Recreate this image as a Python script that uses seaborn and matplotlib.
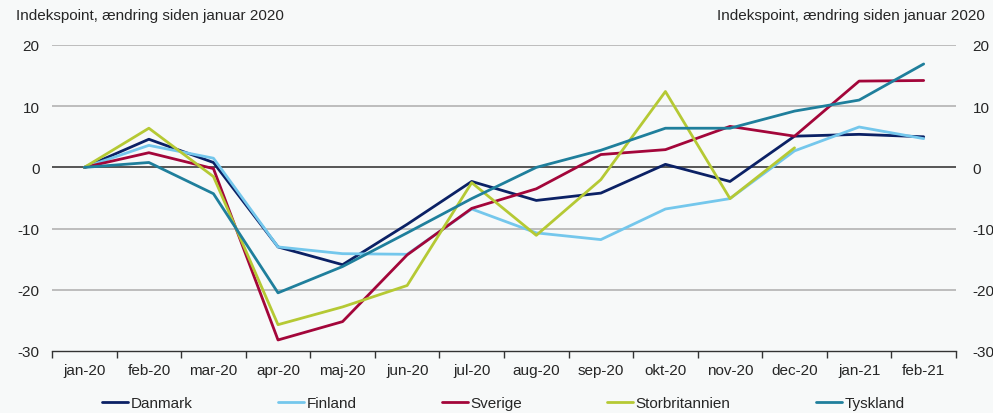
import numpy as np
import pandas as pd
import seaborn as sns
import matplotlib.pyplot as plt
from matplotlib.ticker import FixedLocator

months = ['jan-20', 'feb-20', 'mar-20', 'apr-20', 'maj-20', 'jun-20', 'jul-20',
          'aug-20', 'sep-20', 'okt-20', 'nov-20', 'dec-20', 'jan-21', 'feb-21']

danmark = [0, 4.6, 0.8, -13.0, -15.9, -9.3, -2.3, -5.4, -4.2, 0.5, -2.3, 5.1, 5.4, 5.0]
finland = [0, 3.6, 1.5, -13.0, -14.1, -14.2, -6.8, -10.7, -11.8, -6.8, -5.1, 2.7, 6.6, 4.7]
sverige = [0, 2.4, -0.2, -28.2, -25.2, -14.3, -6.7, -3.5, 2.1, 2.9, 6.7, 5.1, 14.1, 14.2]
storbritannien = [0, 6.4, -1.5, -25.7, -22.8, -19.3, -2.5, -11.1, -2.0, 12.4, -5.1, 3.2, np.nan, np.nan]
tyskland = [0, 0.8, -4.3, -20.5, -16.2, -10.7, -5.1, 0.0, 2.8, 6.4, 6.4, 9.2, 11.0, 16.9]

countries = ['Danmark', 'Finland', 'Sverige', 'Storbritannien', 'Tyskland']
colors = ['#0b2165', '#74c7ec', '#a3063a', '#b5c934', '#1f7f9c']
series = [danmark, finland, sverige, storbritannien, tyskland]

rows = []
for name, vals in zip(countries, series):
    for i, v in enumerate(vals):
        rows.append({'idx': i, 'land': name, 'value': v})
df = pd.DataFrame(rows).dropna()

sns.set_theme(style='white')
plt.rcParams['font.family'] = ['Liberation Sans', 'DejaVu Sans']
plt.rcParams['axes.unicode_minus'] = False
bg = '#f7f9f9'

fig = plt.figure(figsize=(9.93, 4.14), dpi=100, facecolor=bg)
ax = fig.add_axes([0.0524, 0.1498, 0.9103, 0.7391])
ax.set_facecolor(bg)

sns.lineplot(data=df, x='idx', y='value', hue='land', hue_order=countries,
             palette=colors, linewidth=2, ax=ax, legend=False, sort=False)

ax.set_xlim(-0.5, 13.5)
ax.set_ylim(-30, 20)
ax.set_yticks([-30, -20, -10, 0, 10, 20])
for y in [-20, -10, 10, 20]:
    ax.axhline(y, color='#b3b3b3', linewidth=1.2, zorder=0)
ax.axhline(0, color='#3a3a3a', linewidth=1.2, zorder=1)

ax.set_xticks(range(len(months)))
ax.set_xticklabels(months, fontsize=11)
ax.xaxis.set_minor_locator(FixedLocator(np.arange(-0.5, 14, 1)))
ax.tick_params(axis='x', which='major', length=0, pad=9)
ax.tick_params(axis='x', which='minor', length=5, width=1, color='#333333', direction='out', bottom=True)
ax.tick_params(axis='y', length=0, labelsize=11, pad=9)

ax.set_xlabel('')
ax.set_ylabel('')
for s in ['top', 'left', 'right']:
    ax.spines[s].set_visible(False)
ax.spines['bottom'].set_color('#333333')
ax.spines['bottom'].set_linewidth(1)

ax2 = ax.twinx()
ax2.set_ylim(-30, 20)
ax2.set_yticks([-30, -20, -10, 0, 10, 20])
ax2.tick_params(axis='y', length=0, labelsize=11, pad=12)
for s in ax2.spines.values():
    s.set_visible(False)

fig.text(0.016, 0.962, 'Indekspoint, ændring siden januar 2020', fontsize=11, va='center', ha='left')
fig.text(0.992, 0.962, 'Indekspoint, ændring siden januar 2020', fontsize=11, va='center', ha='right')

handles = [plt.Line2D([], [], color=c, linewidth=2) for c in colors]
fig.legend(handles, countries, loc='center', bbox_to_anchor=(0.507, 0.024), ncol=5,
           frameon=False, fontsize=11, handlelength=1.7, handletextpad=0.15,
           columnspacing=5.6)

fig.savefig('out.png', dpi=100, facecolor=bg)
